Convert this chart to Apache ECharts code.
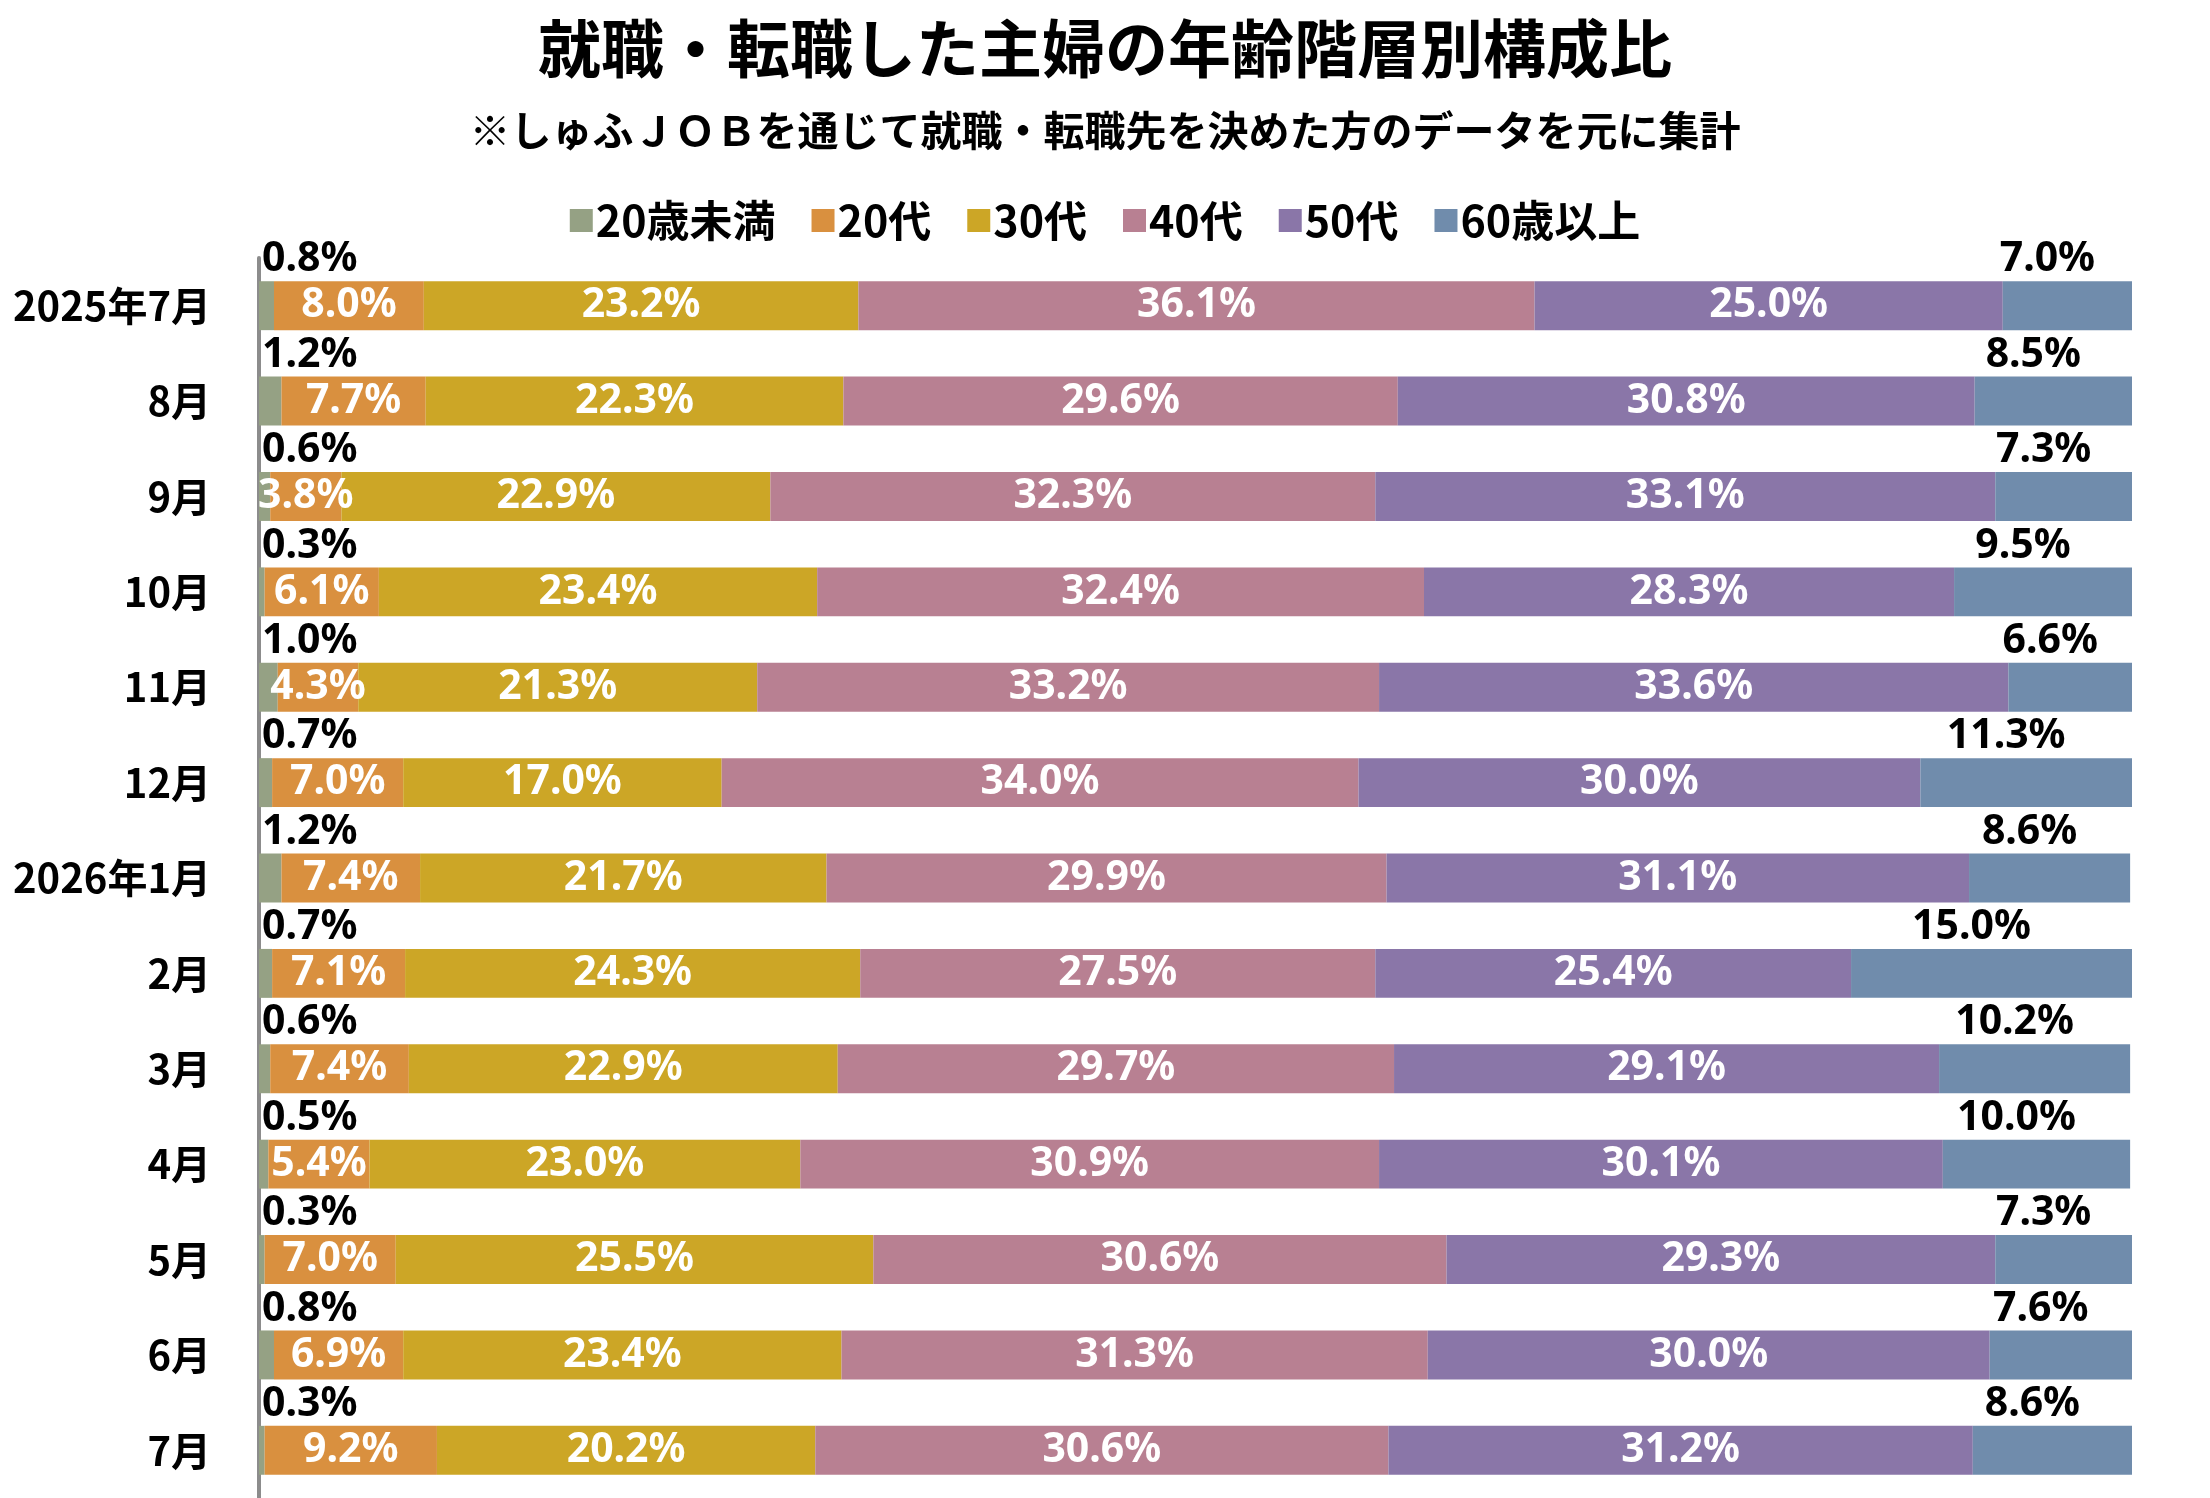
<!DOCTYPE html>
<html><head><meta charset="utf-8">
<script src="https://cdn.jsdelivr.net/npm/echarts@6/dist/echarts.min.js"></script>
<style>html,body{margin:0;padding:0;background:#fff}#c{width:2210px;height:1498px}</style>
</head><body><div id="c"></div>
<script>
const categories = ['2025年7月','8月','9月','10月','11月','12月','2026年1月','2月','3月','4月','5月','6月','7月'];
const seriesNames = ['20歳未満','20代','30代','40代','50代','60歳以上'];
const under20 = [0.8,1.2,0.6,0.3,1.0,0.7,1.2,0.7,0.6,0.5,0.3,0.8,0.3];
const age20s  = [8.0,7.7,3.8,6.1,4.3,7.0,7.4,7.1,7.4,5.4,7.0,6.9,9.2];
const age30s  = [23.2,22.3,22.9,23.4,21.3,17.0,21.7,24.3,22.9,23.0,25.5,23.4,20.2];
const age40s  = [36.1,29.6,32.3,32.4,33.2,34.0,29.9,27.5,29.7,30.9,30.6,31.3,30.6];
const age50s  = [25.0,30.8,33.1,28.3,33.6,30.0,31.1,25.4,29.1,30.1,29.3,30.0,31.2];
const over60  = [7.0,8.5,7.3,9.5,6.6,11.3,8.6,15.0,10.2,10.0,7.3,7.6,8.6];
const colors = ['#95A184','#D9903F','#CCA626','#B88092','#8A76A8','#708CAC'];

const numFont = "'Noto Sans',sans-serif";
const jpFont = "'Noto Sans CJK JP',sans-serif";
const fmt = p => p.value.toFixed(1) + '%';

function mk(i, data, label) {
  return { name: seriesNames[i], type: 'bar', stack: 'total', data: data,
    barCategoryGap: '48.7%', itemStyle: { color: colors[i] }, label: label, animation: false, z: 3 };
}
const inside = { show: true, position: 'inside', color: '#fff', fontFamily: numFont, fontWeight: 'bold', fontSize: 41, formatter: fmt };

const chart = echarts.init(document.getElementById('c'));
chart.setOption({
  backgroundColor: '#fff',
  animation: false,
  title: [
    { text: '就職・転職した主婦の年齢階層別構成比', left: 'center', top: 12,
      textStyle: { fontFamily: jpFont, fontWeight: 'bold', fontSize: 63, color: '#000' } },
    { text: '※しゅふＪＯＢを通じて就職・転職先を決めた方のデータを元に集計', left: 'center', top: 105,
      textStyle: { fontFamily: jpFont, fontWeight: 'bold', fontSize: 41, color: '#000' } }
  ],
  legend: { top: 194, left: 'center', itemWidth: 23, itemHeight: 23, itemGap: 36, icon: 'rect',
    textStyle: { fontFamily: jpFont, fontWeight: 'bold', fontSize: 43, color: '#000', padding: [0,0,0,-2] },
    data: seriesNames },
  grid: { left: 259, right: 78, top: 258, bottom: 0, containLabel: false },
  xAxis: { type: 'value', min: 0, max: 100, show: false },
  yAxis: { type: 'category', data: categories, inverse: true, z: 2,
    axisLine: { show: true, lineStyle: { color: '#8c8c8c', width: 4 } },
    axisTick: { show: false },
    axisLabel: { margin: 48, fontFamily: jpFont, fontWeight: 'bold', fontSize: 40, color: '#000' } },
  series: [
    mk(0, under20, { show: true, position: [3, -1], align: 'left', verticalAlign: 'bottom', color: '#000', fontFamily: numFont, fontWeight: 'bold', fontSize: 41, formatter: fmt }),
    mk(1, age20s, inside),
    mk(2, age30s, inside),
    mk(3, age40s, inside),
    mk(4, age50s, inside),
    mk(5, over60, { show: true, position: 'top', distance: 1, offset: [-20, 0], color: '#000', fontFamily: numFont, fontWeight: 'bold', fontSize: 41, formatter: fmt })
  ]
});
</script></body></html>
